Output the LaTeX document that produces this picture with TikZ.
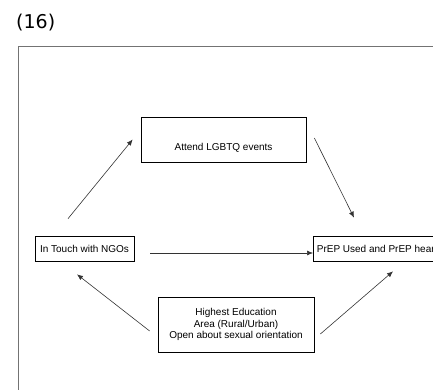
\documentclass[tikz,border=0pt]{standalone}
\usepackage{fontspec}
\setmainfont{Liberation Sans}
\newfontfamily\titlefont{DejaVu Sans}
\usetikzlibrary{arrows.meta,positioning,shapes}

\begin{document}
\begin{tikzpicture}[x=1pt,y=1pt,
  box/.style={draw,line width=.7pt,inner sep=0pt,font=\fontsize{10}{11.8}\selectfont},
  link/.style={-{Latex[length=6pt,width=5pt]},line width=.6pt,draw=black!80}]
\useasboundingbox (0,0) rectangle (433,389);
\clip (0,0) rectangle (433,389);
\node[anchor=west,inner sep=0pt,font=\titlefont\fontsize{19}{21}\selectfont] (title) at (16,366) {(16)};
\draw[black!55,line width=1pt] (18,-10) -- (18,342) -- (450,342);
\node[box,minimum width=165pt,minimum height=45pt,text height=23.5pt,text depth=2.5pt] (lgbtq) at (223.5,249.5) {Attend LGBTQ events};
\node[box,minimum width=99pt,minimum height=25pt] (ngo) at (84.5,140.5) {In Touch with NGOs};
\node[box,anchor=west,minimum height=25pt,inner xsep=3.5pt] (prep) at (313,140.5) {PrEP Used and PrEP heard};
\node[box,minimum width=156pt,minimum height=55pt,align=center] (edu) at (236,64.5) {Highest Education\\Area (Rural/Urban)\\Open about sexual orientation};
\draw[link] ([shift={(-16.5,17)}]ngo.north) -- ([shift={(-8,0)}]lgbtq.west);
\draw[link] ([shift={(8,1.5)}]lgbtq.east) -- ([shift={(41,18)}]prep.north west);
\draw[link] ([shift={(16,-4.5)}]ngo.east) -- ([shift={(0,-4.5)}]prep.west);
\draw[link] ([shift={(-8,-6.5)}]edu.west) -- ([shift={(-7.5,-13)}]ngo.south);
\draw[link] ([shift={(6,-9.5)}]edu.east) -- ([shift={(80,-10)}]prep.south west);
\end{tikzpicture}
\end{document}
